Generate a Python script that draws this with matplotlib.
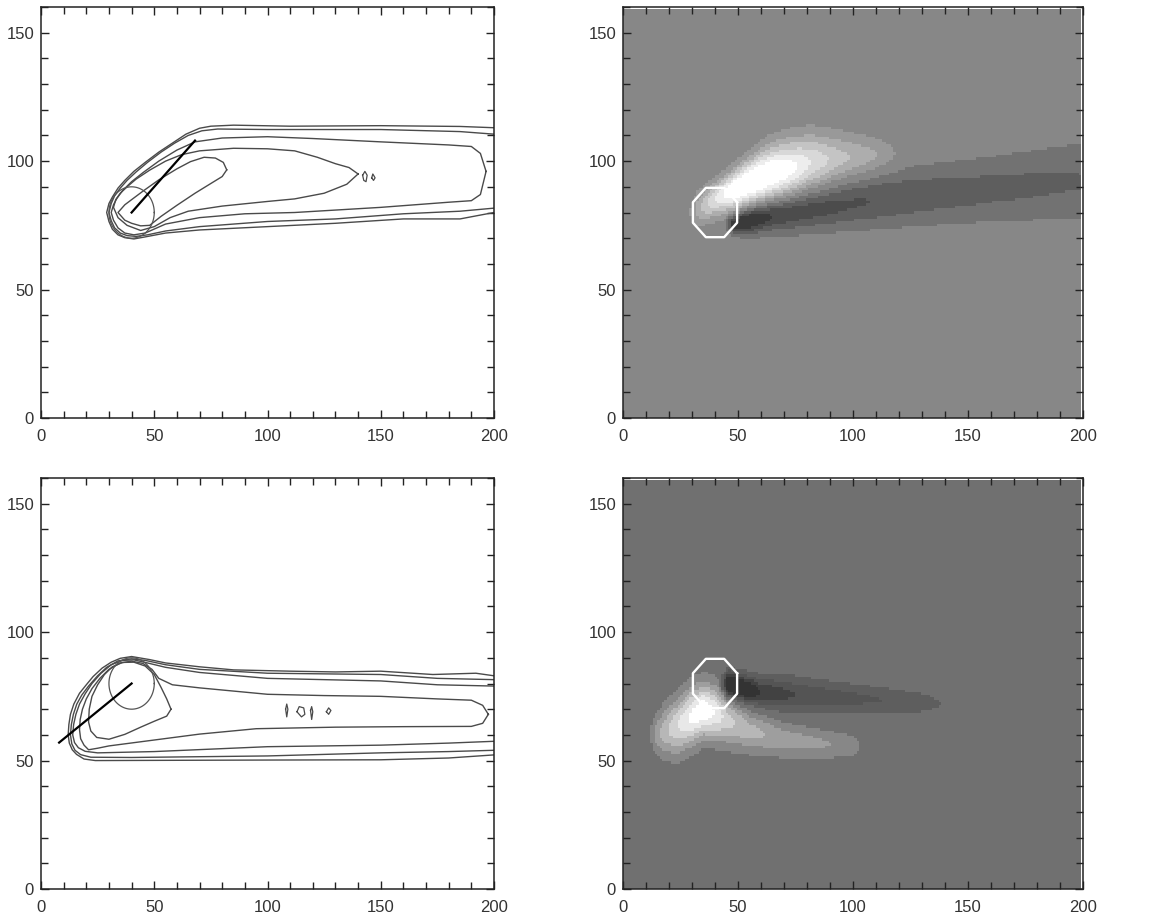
import numpy as np
import matplotlib
matplotlib.use("Agg")
import matplotlib.pyplot as plt
from matplotlib.colors import ListedColormap, BoundaryNorm
from matplotlib.ticker import MultipleLocator

plt.rcParams['font.family'] = ['Liberation Sans', 'DejaVu Sans']

# ---- common geometry (data units) ----
source = (40, 80)
source_radius = 10
jet_top = (68, 108)      # end of jet line, top-left panel
jet_bottom = (8, 57)     # end of jet line, bottom-left panel

# ---- top-left contour outlines: (x, y) points along upper / lower edge ----
tl1_upper = [(29, 80), (30, 83.5), (31.5, 86), (34, 89.5), (37, 92.5), (41, 96), (46, 99.5), (52, 103.5),
             (58, 107), (64, 110.5), (70, 112.8), (75, 113.6), (85, 114), (110, 113.6), (150, 113.8),
             (185, 113.5), (200, 113)]
tl1_lower = [(29, 80), (30, 76.5), (31.5, 73.5), (34, 71.3), (37, 70.2), (41, 69.7), (46, 70.5), (55, 72),
             (70, 73.2), (100, 74.5), (130, 75.8), (160, 77.5), (185, 77.5), (200, 80)]
tl2_upper = [(30, 80), (31, 83.5), (32.5, 86.5), (35, 89.5), (38, 92.5), (42, 95.8), (47, 99.5), (53, 103.5),
             (59, 107), (65, 110), (71, 111.8), (78, 112.5), (100, 112.3), (150, 112.3), (185, 111.5), (200, 110.5)]
tl2_lower = [(30, 80), (31, 76.8), (32.5, 74), (35, 72), (38, 71), (42, 70.7), (47, 71.3), (55, 72.8),
             (70, 74.5), (100, 76.5), (130, 77.5), (160, 79.5), (185, 80.5), (200, 81.7)]
tl3_upper = [(31, 80), (32, 83), (33.5, 85.5), (36, 88.5), (40, 92), (45, 95.5), (52, 100), (60, 104.3),
             (68, 107.5), (80, 109), (100, 109.5), (120, 108.8), (150, 107.5), (180, 106.3), (190, 105.7),
             (194, 103), (196.5, 96)]
tl3_lower = [(31, 80), (32, 77), (34, 74), (37, 72), (41, 71.3), (46, 72), (55, 75.5), (70, 78), (90, 79.5),
             (112, 80), (150, 82), (180, 84), (190, 84.6), (194, 87), (196.5, 96)]
tl4_upper = [(32, 82), (33, 85), (35, 87.5), (38, 90), (42, 93), (48, 96.5), (55, 100), (62, 102.5),
             (70, 104), (85, 105), (100, 104.8), (112, 104), (122, 101.5), (130, 99), (136, 97.5), (140, 95)]
tl4_lower = [(32, 82), (34, 78), (38, 75), (44, 73), (50, 74.5), (57, 78), (65, 80.5), (80, 82.5),
             (100, 84.3), (112, 85.3), (125, 87.5), (135, 91), (140, 95)]
tl5_upper = [(34, 80), (37, 83), (40, 85), (45, 88.3), (52, 92.7), (60, 97), (66, 99.8), (72, 101.5),
             (77, 101.2), (80.5, 99.5), (82, 96.6)]
tl5_lower = [(34, 80), (37, 77), (40, 75.8), (44, 74.8), (48, 75), (53, 78.5), (60, 82.8), (68, 87.5),
             (75, 91.3), (80, 94), (82, 96.6)]
tl_islands = [
    [(142, 94.5), (143, 96), (144, 94.5), (143.5, 92), (142.5, 92.5), (142, 94.5)],
    [(146, 93.5), (146.5, 95), (147.5, 93.5), (146.8, 92.5), (146, 93.5)],
]

# ---- bottom-left contour outlines ----
bl1_upper = [(12, 60), (12.3, 64), (13, 68), (14.5, 72), (17, 76.2), (20, 79.5), (23, 82.7), (27, 86),
             (31, 88.3), (35, 89.8), (40, 90.5), (48, 89.3), (55, 88), (70, 86.5), (85, 85.3), (110, 84.8),
             (130, 84.5), (150, 84.8), (173, 83.5), (192, 84), (200, 83)]
bl1_lower = [(12, 60), (12.5, 56.8), (13.8, 54.2), (15.7, 52.4), (19, 50.6), (24, 50), (60, 50.1),
             (100, 50.2), (150, 50.3), (180, 51), (200, 52.2)]
bl2_upper = [(13, 60), (13.4, 64), (14.3, 68), (15.8, 72), (18, 75.5), (21, 79), (25, 83), (29, 86.3),
             (34, 88.8), (40, 89.6), (46, 89), (55, 87.3), (70, 85.5), (100, 84), (150, 83.5), (175, 82),
             (200, 81.5)]
bl2_lower = [(13, 60), (13.6, 56.5), (15, 54), (17.5, 52.3), (22, 51.3), (40, 51.2), (70, 51.5),
             (100, 51.8), (150, 53), (180, 53.5), (200, 54)]
bl3_upper = [(14, 60), (14.4, 64), (15.4, 68), (17, 72), (19.5, 76), (22.5, 80), (26.5, 84), (31, 87.3),
             (36, 89), (41, 89.2), (47, 88), (55, 86.3), (70, 84.3), (100, 82), (150, 81), (175, 79.5),
             (200, 79)]
bl3_lower = [(14, 60), (14.8, 57), (16.5, 55), (19.5, 53.6), (25, 53), (50, 53.5), (100, 55.4),
             (150, 56), (180, 56.8), (200, 57.5)]
bl4_upper = [(17, 62), (17.3, 66), (18.3, 70), (20, 74), (22.5, 78), (26, 82), (30, 85.5), (35, 88),
             (40, 88.7), (45, 87.8), (49, 85.5), (52, 82), (58, 79.5), (70, 78.3), (100, 75.8), (125, 75.3),
             (150, 75), (175, 74), (190, 73.5), (195, 71.5), (197.5, 68)]
bl4_lower = [(17, 62), (17.5, 58.5), (19, 56), (21, 54.2), (25, 54.8), (30, 55.7), (50, 58), (70, 60.3),
             (95, 62.4), (130, 63), (160, 63.2), (190, 63.3), (195, 64.5), (197.5, 68)]
bl5_upper = [(21, 65), (21.3, 70), (22.5, 75), (25, 79.5), (28, 83.5), (31.5, 86.5), (36, 88.2),
             (41, 88.3), (46, 86.8), (50, 83.5), (53, 78.5), (55.5, 74), (57.4, 70)]
bl5_lower = [(21, 65), (22, 61.5), (24.6, 59), (30, 58.3), (37, 60.2), (44, 63), (50, 65.3),
             (55.5, 67.3), (57.4, 70)]
bl_islands = [
    [(108, 70), (108.5, 72), (109, 70), (108.5, 67), (108, 70)],
    [(113, 69), (114, 71), (116, 70.5), (116.5, 68), (115, 67), (113, 69)],
    [(119, 69.5), (119.5, 71), (120, 69), (119.5, 66), (119, 69.5)],
    [(126, 69), (127, 70.5), (128, 69.5), (127, 68), (126, 69)],
]

# ---- right panels: plume knots (x, amplitude, centre y, width) ----
tr_bright_x = [28, 33, 40, 48, 56, 64, 72, 82, 95, 110, 125]
tr_bright_amp = [0, 0.35, 0.7, 1.05, 1.15, 1.1, 0.95, 0.7, 0.45, 0.28, 0]
tr_bright_cen = [80, 82, 85.5, 89, 92.5, 95.5, 97.5, 100, 101.5, 102.5, 103]
tr_bright_wid = [4, 4.5, 4.5, 5, 6, 7, 7.5, 7.5, 6.5, 5, 3.5]
tr_dark_x = [44, 48, 52, 58, 66, 80, 100, 130, 160, 190, 200]
tr_dark_amp = [0, 0.7, 0.9, 0.75, 0.6, 0.5, 0.42, 0.35, 0.3, 0.27, 0.26]
tr_dark_cen = [76, 76, 76.5, 78, 79.5, 81.5, 84, 87, 89.5, 92, 92.5]
tr_dark_wid = [2, 2.5, 3, 3.8, 4.5, 5.5, 6.5, 7.5, 8.5, 10, 10.5]

br_bright_x = [11, 14, 18, 24, 30, 35, 40, 46, 55, 70, 85, 100, 106]
br_bright_amp = [0, 0.3, 0.5, 0.7, 0.9, 1.0, 0.85, 0.6, 0.45, 0.35, 0.28, 0.2, 0]
br_bright_cen = [60, 60.5, 61.5, 64, 67.5, 70, 69, 66, 62, 58.5, 57, 56, 56]
br_bright_wid = [3, 5, 6.5, 7.5, 7.5, 7, 7, 6.5, 5.5, 4.5, 4, 3.5, 3]
br_dark_x = [42, 46, 52, 60, 75, 90, 110, 130, 148]
br_dark_amp = [0, 0.95, 0.85, 0.55, 0.4, 0.33, 0.26, 0.2, 0]
br_dark_cen = [80, 80, 78.5, 77, 76, 75, 74, 73, 72]
br_dark_wid = [2, 3.5, 3.5, 4, 4.5, 4.2, 3.8, 3, 2]

fill_levels = [-9, -0.55, -0.4, -0.25, -0.1, 0.1, 0.25, 0.4, 0.55, 0.7, 0.85, 9]
tr_grays = [0.23, 0.30, 0.37, 0.45, 0.53, 0.60, 0.68, 0.77, 0.85, 0.93, 1.0]
br_grays = [0.20, 0.26, 0.33, 0.37, 0.44, 0.53, 0.62, 0.72, 0.82, 0.91, 1.0]


def plume(X, Y, kx, amp, cen, wid):
    a = np.interp(X, kx, amp, left=0, right=amp[-1])
    c = np.interp(X, kx, cen)
    w = np.interp(X, kx, wid)
    return a * np.exp(-0.5 * ((Y - c) / w) ** 2)


def style_axes(ax):
    ax.set_xlim(0, 200)
    ax.set_ylim(0, 160)
    ax.xaxis.set_major_locator(MultipleLocator(50))
    ax.xaxis.set_minor_locator(MultipleLocator(10))
    ax.yaxis.set_major_locator(MultipleLocator(50))
    ax.yaxis.set_minor_locator(MultipleLocator(10))
    ax.tick_params(which='both', direction='in', top=True, right=True, width=1, color='#222222')
    ax.tick_params(which='major', length=6)
    ax.tick_params(which='minor', length=5)
    ax.tick_params(axis='x', pad=8, labelsize=12, labelcolor='#333333')
    ax.tick_params(axis='y', pad=5, labelsize=12, labelcolor='#333333')
    for s in ax.spines.values():
        s.set_linewidth(1.1)
        s.set_color('#222222')


def draw_outline(ax, upper, lower):
    up = np.array(upper)
    lo = np.array(lower)
    pts = np.vstack([lo[::-1], up[1:]])
    ax.plot(pts[:, 0], pts[:, 1], color='#4a4a4a', lw=1.0)


def draw_islands(ax, islands):
    for isl in islands:
        p = np.array(isl)
        ax.plot(p[:, 0], p[:, 1], color='#4a4a4a', lw=0.9)


def draw_source(ax, jet_end):
    t = np.linspace(0, 2 * np.pi, 100)
    ax.plot(source[0] + source_radius * np.cos(t), source[1] + source_radius * np.sin(t),
            color='#555555', lw=0.9)
    ax.plot([source[0], jet_end[0]], [source[1], jet_end[1]], color='black', lw=1.6)


def draw_octagon(ax):
    t = np.deg2rad(22.5 + 45 * np.arange(9))
    ax.plot(source[0] + 10.4 * np.cos(t), source[1] + 10.4 * np.sin(t), color='white', lw=1.7)


fig = plt.figure(figsize=(11.51, 9.19), dpi=100)
W, H = 1151, 919
ax_tl = fig.add_axes([41 / W, (H - 418) / H, 453 / W, 411 / H])
ax_tr = fig.add_axes([623 / W, (H - 418) / H, 460 / W, 411 / H])
ax_bl = fig.add_axes([41 / W, (H - 889) / H, 453 / W, 411 / H])
ax_br = fig.add_axes([623 / W, (H - 889) / H, 460 / W, 411 / H])

# left panels: contour outlines
for ax, levels, islands, jet_end in [
    (ax_tl, [(tl1_upper, tl1_lower), (tl2_upper, tl2_lower), (tl3_upper, tl3_lower),
             (tl4_upper, tl4_lower), (tl5_upper, tl5_lower)], tl_islands, jet_top),
    (ax_bl, [(bl1_upper, bl1_lower), (bl2_upper, bl2_lower), (bl3_upper, bl3_lower),
             (bl4_upper, bl4_lower), (bl5_upper, bl5_lower)], bl_islands, jet_bottom),
]:
    for upper, lower in levels:
        draw_outline(ax, upper, lower)
    draw_islands(ax, islands)
    draw_source(ax, jet_end)
    style_axes(ax)

# right panels: filled grey levels
xc = np.arange(200) + 0.5
yc = np.arange(160) + 0.5
X, Y = np.meshgrid(xc, yc)

z_tr = plume(X, Y, tr_bright_x, tr_bright_amp, tr_bright_cen, tr_bright_wid) \
    - plume(X, Y, tr_dark_x, tr_dark_amp, tr_dark_cen, tr_dark_wid)
z_br = plume(X, Y, br_bright_x, br_bright_amp, br_bright_cen, br_bright_wid) \
    - plume(X, Y, br_dark_x, br_dark_amp, br_dark_cen, br_dark_wid)

for ax, z, grays in [(ax_tr, z_tr, tr_grays), (ax_br, z_br, br_grays)]:
    cmap = ListedColormap([(g, g, g) for g in grays])
    norm = BoundaryNorm(fill_levels, cmap.N)
    ax.imshow(z, origin='lower', extent=[0, 199, 0, 159], cmap=cmap, norm=norm,
              interpolation='nearest', aspect='auto')
    draw_octagon(ax)
    style_axes(ax)

fig.savefig('out.png', dpi=100)
